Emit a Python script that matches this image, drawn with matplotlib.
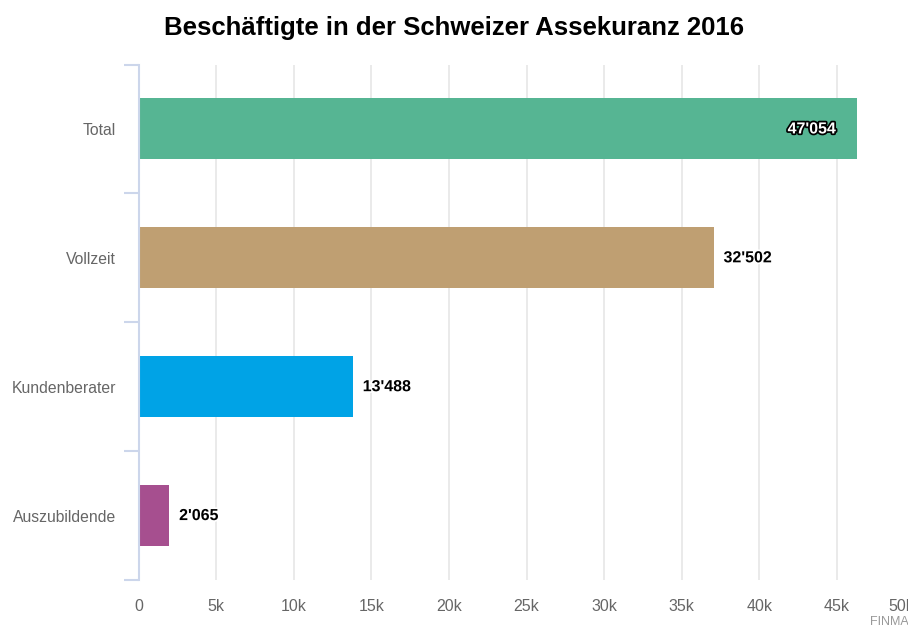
#####################################################################
### Beschaeftigte in der Schweizer Assekuranz 2016 - horizontal bars
#####################################################################

import numpy as np
import matplotlib as mpl
mpl.use('Agg')
import matplotlib.pyplot as plt
import matplotlib.patheffects as pe

plt.rcParams['font.family'] = ['Liberation Sans', 'DejaVu Sans']

### data
categories = ['Total', 'Vollzeit', 'Kundenberater', 'Auszubildende']
bar_values = [46300, 37070, 13820, 1990]        # bar lengths as drawn
bar_labels = ["47'054", "32'502", "13'488", "2'065"]
colors = ['#56b593', '#bf9f72', '#00a3e6', '#a64f8f']
x_ticks = np.arange(0, 50001, 5000)
x_ticklabels = ['0'] + ['%dk' % (t // 1000) for t in x_ticks[1:]]

#### create figure
W, H = 908, 629
fig = plt.figure(figsize=(W / 100, H / 100), dpi=100)
x0, x50 = 138.5, 914.5
ytop, ybot = 64.5, 580
ax = fig.add_axes([x0 / W, (H - ybot) / H, (x50 - x0) / W, (ybot - ytop) / H])

ypos = np.arange(len(categories))
ax.barh(ypos, bar_values, height=0.474, color=colors, zorder=2)
ax.set_ylim(len(categories) - 0.5, -0.5)
ax.set_xlim(0, 50000)

### grid + axes styling
ax.set_xticks(x_ticks)
ax.set_xticklabels(x_ticklabels, fontsize=11.5, color='#666666')
ax.get_xticklabels()[-1].set_ha('right')
ax.tick_params(axis='x', length=0, pad=14)
ax.grid(axis='x', color='#e6e6e6', linewidth=1.2, zorder=0)
ax.set_axisbelow(True)

ax.set_yticks(ypos)
ax.set_yticklabels(categories, fontsize=11.3, color='#666666')
ax.tick_params(axis='y', which='major', length=0, pad=16)
ax.set_yticks(np.arange(-0.5, len(categories)), minor=True)
ax.tick_params(axis='y', which='minor', length=10.5, width=1.5, color='#ccd6eb')

for s in ['top', 'right', 'bottom']:
	ax.spines[s].set_visible(False)
ax.spines['left'].set_color('#ccd6eb')
ax.spines['left'].set_linewidth(1.5)

### data labels
for i, (v, lab) in enumerate(zip(bar_values, bar_labels)):
	if i == 0:
		ax.annotate(lab, (v, i), xytext=(-15, 0), textcoords='offset points',
			ha='right', va='center', fontsize=11.5, fontweight='bold', color='white',
			path_effects=[pe.withStroke(linewidth=2.5, foreground='black')], zorder=3)
	else:
		ax.annotate(lab, (v, i), xytext=(7, 0), textcoords='offset points',
			ha='left', va='center', fontsize=11.5, fontweight='bold', color='black',
			path_effects=[pe.withStroke(linewidth=2.5, foreground='white')], zorder=3)

### title and credit
fig.text(0.5, 1 - 28 / H, 'Beschäftigte in der Schweizer Assekuranz 2016',
	ha='center', va='center', fontsize=18.5, fontweight='bold', color='black')
fig.text(870 / W, 1 - 622 / H, 'FINMA', ha='left', va='center',
	fontsize=9, color='#999999')

fig.savefig('out.png', dpi=100)
plt.close()
